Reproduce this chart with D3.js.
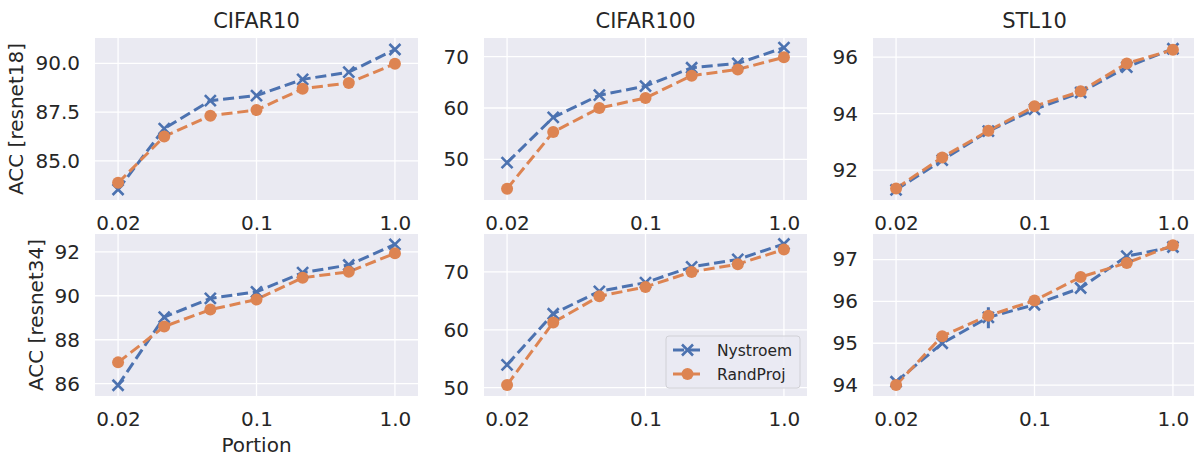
<!DOCTYPE html>
<html>
<head>
<meta charset="utf-8">
<script src="https://cdn.jsdelivr.net/npm/d3@7"></script>
<style>
  html, body { margin: 0; padding: 0; background: #fff; }
  svg { display: block; font-family: "DejaVu Sans", sans-serif; }
</style>
</head>
<body>
<svg id="chart" width="1194" height="458"></svg>
<script>
// x categories (evenly spaced, only some labelled)
const portions = [0.02, 0.03, 0.05, 0.1, 0.2, 0.5, 1.0];
const tickIdx = [0, 3, 6];
const tickText = ["0.02", "0.1", "1.0"];

const datasets = ["CIFAR10", "CIFAR100", "STL10"];
const models = ["resnet18", "resnet34"];
const seriesNames = ["Nystroem", "RandProj"];
const colors = ["#4c72b0", "#dd8452"];

// [row][col] values per method
const nystroem = [
  [
    [83.54, 86.66, 88.09, 88.35, 89.18, 89.55, 90.71],
    [49.34, 58.16, 62.50, 64.26, 67.84, 68.68, 71.75],
    [91.30, 92.35, 93.38, 94.15, 94.75, 95.65, 96.30]
  ],
  [
    [85.93, 89.03, 89.88, 90.18, 91.05, 91.40, 92.34],
    [53.95, 62.77, 66.64, 68.15, 70.87, 72.16, 74.82],
    [94.08, 95.00, 95.62, 95.92, 96.32, 97.08, 97.30]
  ]
];
const randproj = [
  [
    [83.88, 86.25, 87.32, 87.61, 88.70, 89.00, 89.98],
    [44.27, 55.32, 60.00, 61.95, 66.30, 67.52, 69.88],
    [91.35, 92.45, 93.39, 94.26, 94.79, 95.78, 96.26]
  ],
  [
    [86.97, 88.60, 89.37, 89.83, 90.82, 91.09, 91.93],
    [50.47, 61.27, 65.79, 67.41, 70.00, 71.34, 73.89],
    [94.00, 95.17, 95.66, 96.02, 96.58, 96.92, 97.34]
  ]
];
// visible error bar (STL10 / resnet34, Nystroem): [row, col, index, low, high]
const errBars = [[1, 2, 2, 95.36, 95.86]];

const yDomains = [
  [[83.0, 91.3], [42.07, 73.64], [90.94, 96.68]],
  [[85.44, 92.81], [48.56, 76.55], [93.74, 97.61]]
];
const yTicks = [
  [[85, 87.5, 90], [50, 60, 70], [92, 94, 96]],
  [[86, 88, 90, 92], [50, 60, 70], [94, 95, 96, 97]]
];
const yFormats = [[".1f", "d", "d"], ["d", "d", "d"]];

const svg = d3.select("#chart");
const colX = [95, 484, 873];
const rowY = [38, 234];
const pw = 323, ph = 162;
const textColor = "#262626";

function xMarker(g, x, y, color) {
  const s = 5.5;
  g.append("path")
    .attr("d", `M${x - s},${y - s}L${x + s},${y + s}M${x - s},${y + s}L${x + s},${y - s}`)
    .attr("stroke", color).attr("stroke-width", 2.6).attr("fill", "none");
}

for (let r = 0; r < 2; r++) {
  for (let c = 0; c < 3; c++) {
    const g = svg.append("g").attr("transform", `translate(${colX[c]},${rowY[r]})`);
    const x = d3.scaleLinear().domain([-0.5, portions.length - 0.5]).range([0, pw]);
    const y = d3.scaleLinear().domain(yDomains[r][c]).range([ph, 0]);

    g.append("rect").attr("width", pw).attr("height", ph).attr("fill", "#eaeaf2");

    // grid
    tickIdx.forEach(i => {
      g.append("line").attr("x1", x(i)).attr("x2", x(i)).attr("y1", 0).attr("y2", ph)
        .attr("stroke", "#fff").attr("stroke-width", 1.3);
    });
    yTicks[r][c].forEach(v => {
      g.append("line").attr("x1", 0).attr("x2", pw).attr("y1", y(v)).attr("y2", y(v))
        .attr("stroke", "#fff").attr("stroke-width", 1.3);
    });

    // axes
    const xAxis = g.append("g").attr("transform", `translate(0,${ph})`)
      .call(d3.axisBottom(x).tickValues(tickIdx).tickSize(0).tickPadding(0)
        .tickFormat((d, i) => tickText[i]));
    xAxis.select(".domain").remove();
    xAxis.selectAll("text").attr("dy", null).attr("y", 30)
      .attr("font-size", 20).attr("fill", textColor).attr("font-family", "DejaVu Sans, sans-serif");

    const yAxis = g.append("g")
      .call(d3.axisLeft(y).tickValues(yTicks[r][c]).tickSize(0).tickPadding(15)
        .tickFormat(d3.format(yFormats[r][c])));
    yAxis.select(".domain").remove();
    yAxis.selectAll("text").attr("font-size", 20).attr("fill", textColor)
      .attr("font-family", "DejaVu Sans, sans-serif");

    if (r === 0) {
      g.append("text").attr("x", pw / 2).attr("y", -10).attr("text-anchor", "middle")
        .attr("font-size", 21).attr("fill", textColor).text(datasets[c]);
    }
    if (c === 0) {
      let maxW = 0;
      yAxis.selectAll("text").each(function () { maxW = Math.max(maxW, this.getComputedTextLength()); });
      const lx = -15 - maxW - 12;
      g.append("text").attr("transform", `translate(${lx},${ph / 2}) rotate(-90)`)
        .attr("text-anchor", "middle").attr("font-size", 20).attr("fill", textColor)
        .text(`ACC [${models[r]}]`);
    }
    if (r === 1 && c === 0) {
      g.append("text").attr("x", x(3)).attr("y", ph + 56).attr("text-anchor", "middle")
        .attr("font-size", 20).attr("fill", textColor).text("Portion");
    }

    const line = d3.line().x((d, i) => x(i)).y(d => y(d));
    const all = [nystroem[r][c], randproj[r][c]];
    all.forEach((vals, s) => {
      g.append("path").datum(vals).attr("d", line).attr("fill", "none")
        .attr("stroke", colors[s]).attr("stroke-width", 3)
        .attr("stroke-dasharray", "11.1,4.8");
    });
    errBars.filter(e => e[0] === r && e[1] === c).forEach(e => {
      g.append("line").attr("x1", x(e[2])).attr("x2", x(e[2]))
        .attr("y1", y(e[3])).attr("y2", y(e[4]))
        .attr("stroke", colors[0]).attr("stroke-width", 3).attr("stroke-dasharray", "11.1,4.8");
    });
    nystroem[r][c].forEach((v, i) => xMarker(g, x(i), y(v), colors[0]));
    randproj[r][c].forEach((v, i) => {
      g.append("circle").attr("cx", x(i)).attr("cy", y(v)).attr("r", 6).attr("fill", colors[1]);
    });

    // legend
    if (r === 1 && c === 1) {
      const lg = g.append("g").attr("transform", `translate(${pw - 141},${ph - 60})`);
      lg.append("rect").attr("width", 134).attr("height", 52).attr("rx", 3)
        .attr("fill", "#eaeaf2").attr("fill-opacity", 0.8)
        .attr("stroke", "#d0d0d6").attr("stroke-width", 1);
      seriesNames.forEach((name, s) => {
        const ly = 14 + s * 24;
        lg.append("line").attr("x1", 7).attr("x2", 36).attr("y1", ly).attr("y2", ly)
          .attr("stroke", colors[s]).attr("stroke-width", 3).attr("stroke-dasharray", "11.1,4.8");
        if (s === 0) xMarker(lg, 21.5, ly, colors[0]);
        else lg.append("circle").attr("cx", 21.5).attr("cy", ly).attr("r", 6).attr("fill", colors[1]);
        lg.append("text").attr("x", 51).attr("y", ly + 5.5).attr("font-size", 15.5)
          .attr("fill", textColor).text(name);
      });
    }
  }
}
</script>
</body>
</html>
